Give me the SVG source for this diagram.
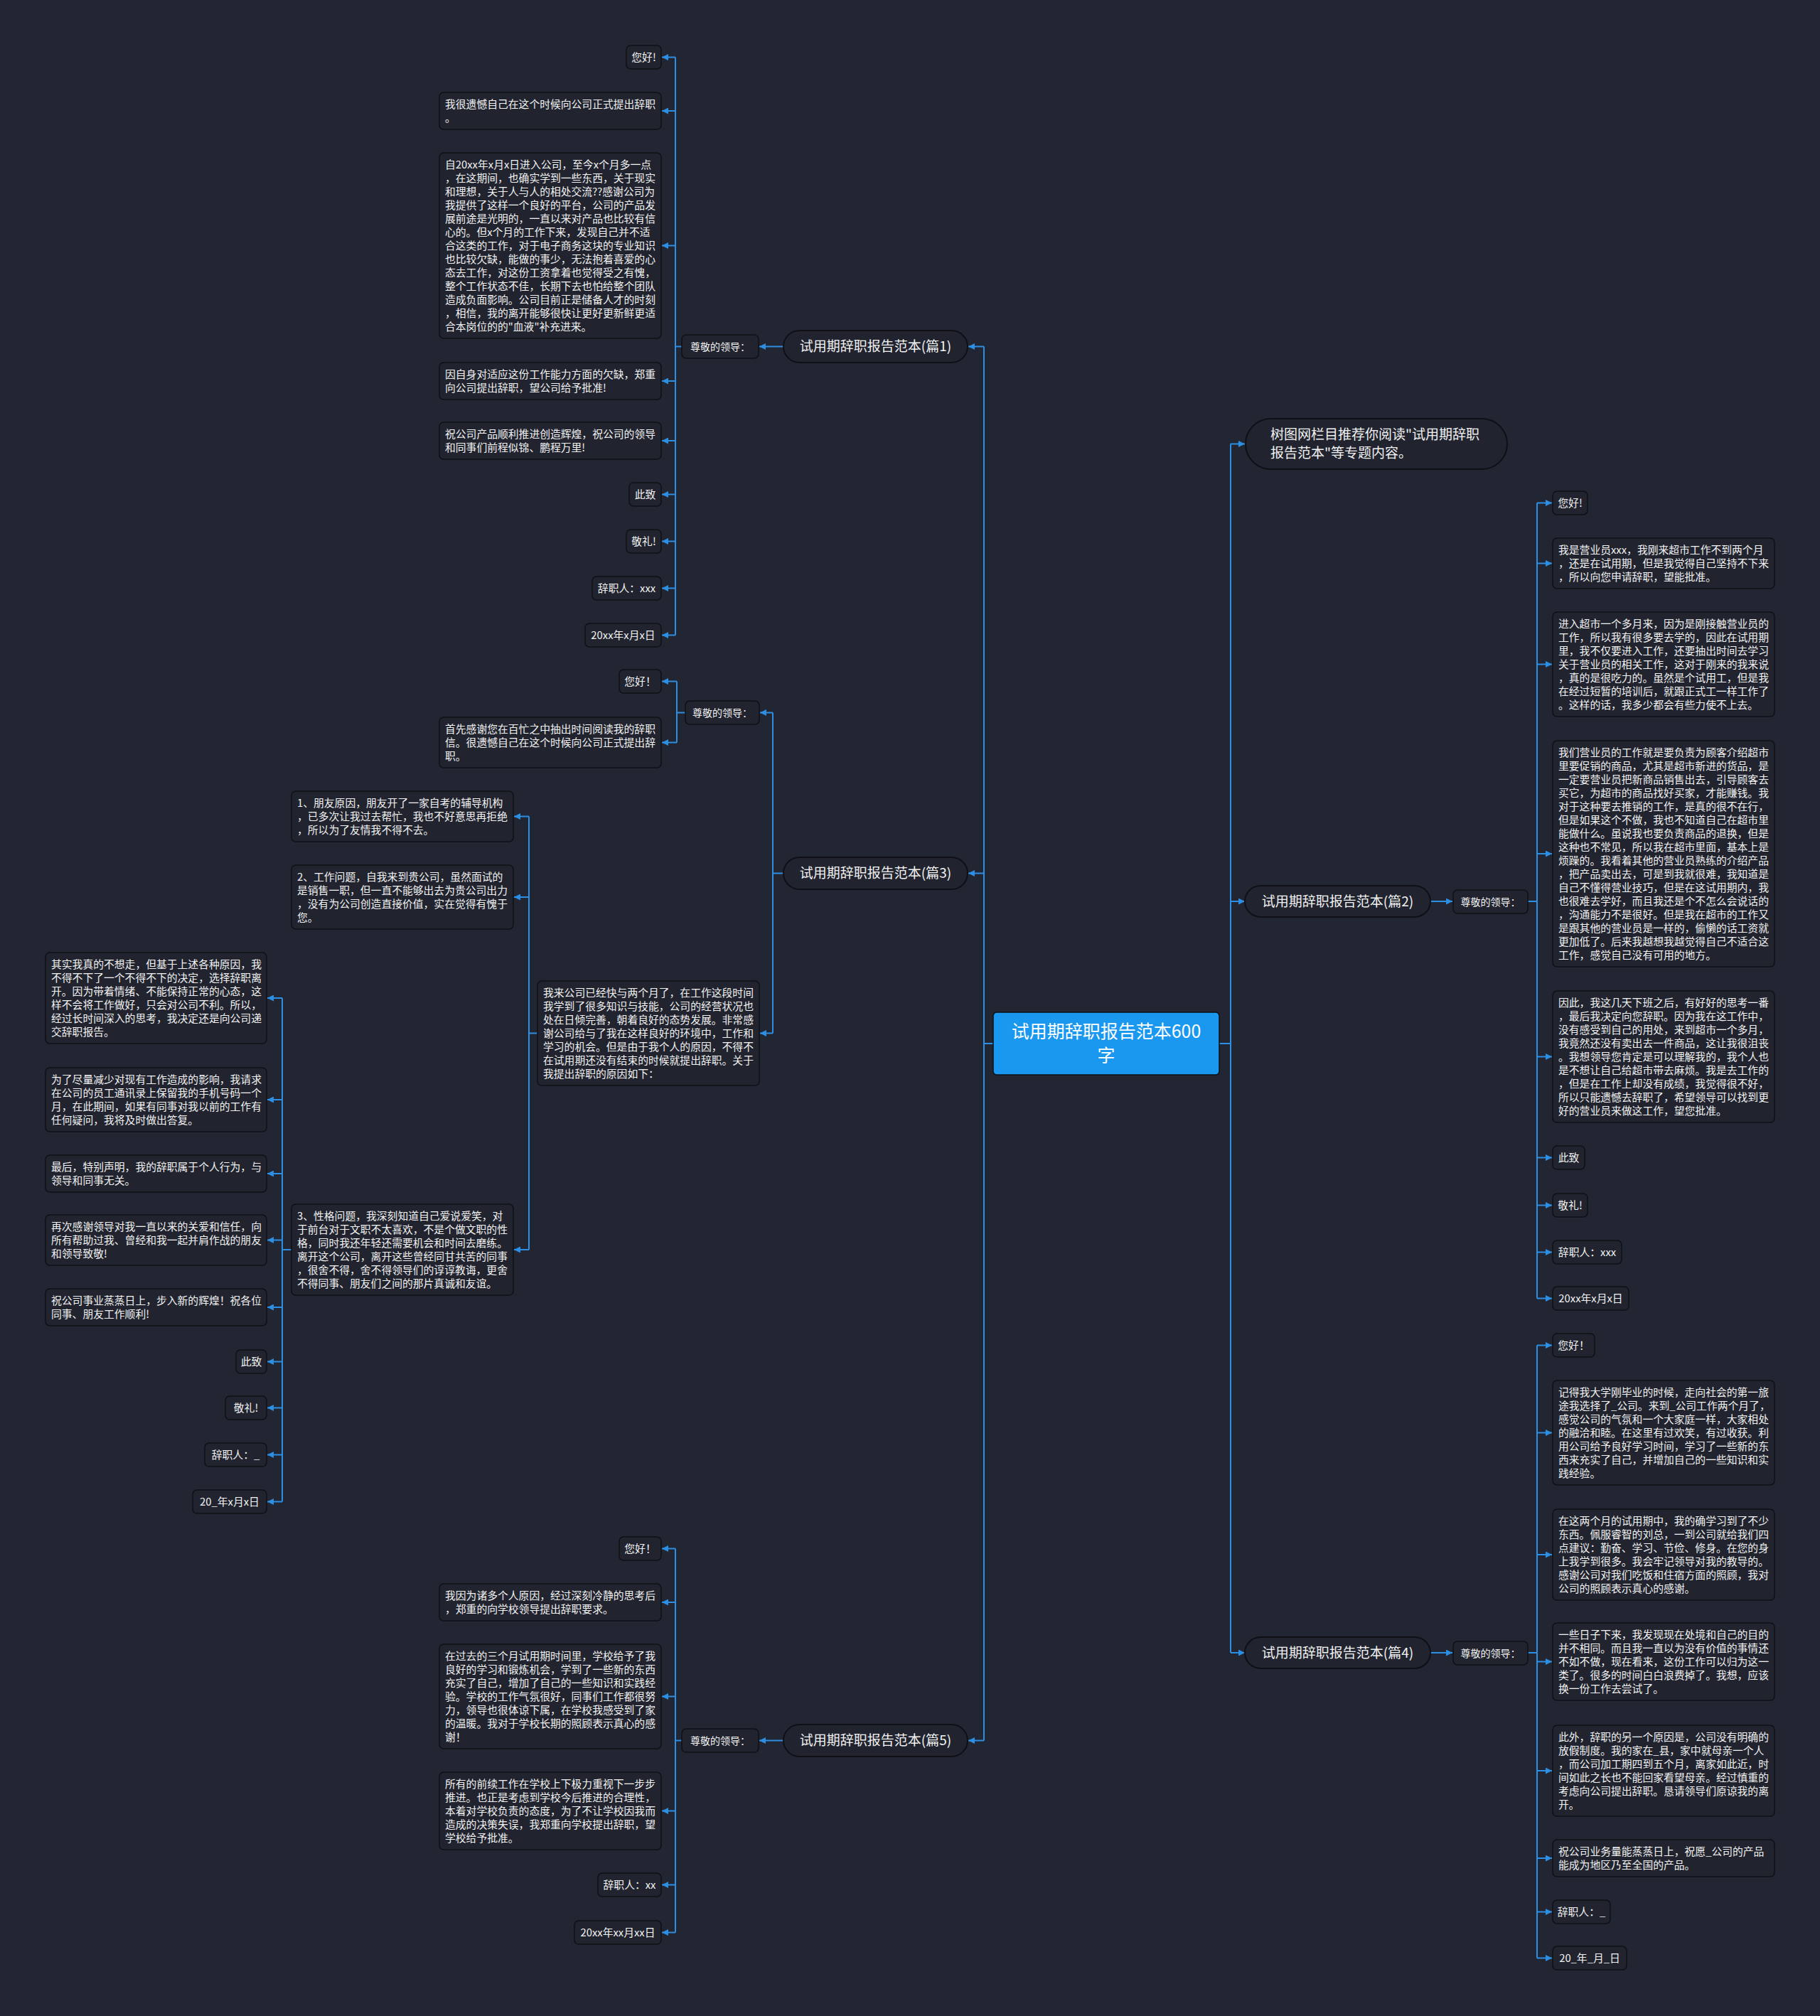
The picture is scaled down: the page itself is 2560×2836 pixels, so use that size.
<svg xmlns="http://www.w3.org/2000/svg" width="2560" height="2836" viewBox="0 0 2560 2836">
<style>
.leaf{fill:#21242f;stroke:#0e1015;stroke-width:1.5}
.pill{fill:#21242f;stroke:#0e1015;stroke-width:2}
.t{font-family:"Noto Sans CJK SC","Noto Sans",sans-serif;font-size:14.8px;fill:#f2f2f2}
.tm{font-size:19px}
.ts{font-size:14px}
.tc{font-size:25px;fill:#ffffff}
.c{stroke:#2d8fe3;stroke-width:2;fill:none}
</style>
<defs>
<marker id="ah" viewBox="0 0 10 10" refX="10" refY="5" markerWidth="9" markerHeight="9" markerUnits="userSpaceOnUse" orient="auto"><path d="M0,0L10,5L0,10z" fill="#2d8fe3"/></marker>
</defs>
<rect x="0" y="0" width="2560" height="2836" fill="#222532"/>

<g id="connectors">
<!-- center to spines -->
<path class="c" d="M1397,1468H1384M1384,487.5V2448.5"/>
<path class="c" d="M1384,487.5H1362" marker-end="url(#ah)"/>
<path class="c" d="M1384,1228.5H1362" marker-end="url(#ah)"/>
<path class="c" d="M1384,2448.5H1362" marker-end="url(#ah)"/>
<path class="c" d="M1715,1468H1731M1731,624.5V2325"/>
<path class="c" d="M1731,624.5H1751" marker-end="url(#ah)"/>
<path class="c" d="M1731,1268H1751" marker-end="url(#ah)"/>
<path class="c" d="M1731,2325H1751" marker-end="url(#ah)"/>
<!-- p1 -->
<path class="c" d="M1102,487.5H1068" marker-end="url(#ah)"/>
<path class="c" d="M959,487.5H950M950,80.5V893.5"/>
<path class="c" d="M950,80.5H931" marker-end="url(#ah)"/>
<path class="c" d="M950,156H931" marker-end="url(#ah)"/>
<path class="c" d="M950,345.5H931" marker-end="url(#ah)"/>
<path class="c" d="M950,536H931" marker-end="url(#ah)"/>
<path class="c" d="M950,620H931" marker-end="url(#ah)"/>
<path class="c" d="M950,695.5H931" marker-end="url(#ah)"/>
<path class="c" d="M950,761.5H931" marker-end="url(#ah)"/>
<path class="c" d="M950,827.5H931" marker-end="url(#ah)"/>
<path class="c" d="M950,893.5H931" marker-end="url(#ah)"/>
<!-- p3 -->
<path class="c" d="M1102,1228.5H1087M1087,1002.5V1453.5"/>
<path class="c" d="M1087,1002.5H1069" marker-end="url(#ah)"/>
<path class="c" d="M1087,1453.5H1069" marker-end="url(#ah)"/>
<path class="c" d="M964,1002.5H952M952,958.5V1044.5"/>
<path class="c" d="M952,958.5H931" marker-end="url(#ah)"/>
<path class="c" d="M952,1044.5H931" marker-end="url(#ah)"/>
<path class="c" d="M756,1453.5H744M744,1148.5V1758"/>
<path class="c" d="M744,1148.5H723" marker-end="url(#ah)"/>
<path class="c" d="M744,1262H723" marker-end="url(#ah)"/>
<path class="c" d="M744,1758H723" marker-end="url(#ah)"/>
<path class="c" d="M410,1758H397M397,1404V2112.5"/>
<path class="c" d="M397,1404H376" marker-end="url(#ah)"/>
<path class="c" d="M397,1547H376" marker-end="url(#ah)"/>
<path class="c" d="M397,1651H376" marker-end="url(#ah)"/>
<path class="c" d="M397,1744.5H376" marker-end="url(#ah)"/>
<path class="c" d="M397,1839H376" marker-end="url(#ah)"/>
<path class="c" d="M397,1915.5H376" marker-end="url(#ah)"/>
<path class="c" d="M397,1980.5H376" marker-end="url(#ah)"/>
<path class="c" d="M397,2046.5H376" marker-end="url(#ah)"/>
<path class="c" d="M397,2112.5H376" marker-end="url(#ah)"/>
<!-- p5 -->
<path class="c" d="M1102,2448.5H1068" marker-end="url(#ah)"/>
<path class="c" d="M959,2448.5H950M950,2178.5V2718.5"/>
<path class="c" d="M950,2178.5H931" marker-end="url(#ah)"/>
<path class="c" d="M950,2254H931" marker-end="url(#ah)"/>
<path class="c" d="M950,2386.5H931" marker-end="url(#ah)"/>
<path class="c" d="M950,2547.5H931" marker-end="url(#ah)"/>
<path class="c" d="M950,2651.5H931" marker-end="url(#ah)"/>
<path class="c" d="M950,2718.5H931" marker-end="url(#ah)"/>
<!-- p2 -->
<path class="c" d="M2012,1268H2043" marker-end="url(#ah)"/>
<path class="c" d="M2149,1268H2162M2162,707.5V1826.5"/>
<path class="c" d="M2162,707.5H2183" marker-end="url(#ah)"/>
<path class="c" d="M2162,792.5H2183" marker-end="url(#ah)"/>
<path class="c" d="M2162,934.5H2183" marker-end="url(#ah)"/>
<path class="c" d="M2162,1201H2183" marker-end="url(#ah)"/>
<path class="c" d="M2162,1486.5H2183" marker-end="url(#ah)"/>
<path class="c" d="M2162,1628.5H2183" marker-end="url(#ah)"/>
<path class="c" d="M2162,1695.5H2183" marker-end="url(#ah)"/>
<path class="c" d="M2162,1761.5H2183" marker-end="url(#ah)"/>
<path class="c" d="M2162,1826.5H2183" marker-end="url(#ah)"/>
<!-- p4 -->
<path class="c" d="M2012,2325H2043" marker-end="url(#ah)"/>
<path class="c" d="M2149,2325H2162M2162,1892.5V2754.5"/>
<path class="c" d="M2162,1892.5H2183" marker-end="url(#ah)"/>
<path class="c" d="M2162,2015.5H2183" marker-end="url(#ah)"/>
<path class="c" d="M2162,2187H2183" marker-end="url(#ah)"/>
<path class="c" d="M2162,2337.5H2183" marker-end="url(#ah)"/>
<path class="c" d="M2162,2491H2183" marker-end="url(#ah)"/>
<path class="c" d="M2162,2614H2183" marker-end="url(#ah)"/>
<path class="c" d="M2162,2689.5H2183" marker-end="url(#ah)"/>
<path class="c" d="M2162,2754.5H2183" marker-end="url(#ah)"/>
</g>

<g id="center">
<rect x="1397" y="1424" width="318" height="88" rx="5" fill="#1a98f0" stroke="#0e1015" stroke-width="1.5"/>
<text class="t tc" x="1556" y="1460" text-anchor="middle">试用期辞职报告范本600</text>
<text class="t tc" x="1556" y="1494" text-anchor="middle">字</text>
</g>

<!-- main branches -->
<g id="p1"><rect class="pill" x="1102" y="465" width="259" height="45" rx="22.5"/><text class="t tm" x="1231.5" y="494" text-anchor="middle">试用期辞职报告范本(篇1)</text></g>
<g id="p3"><rect class="pill" x="1102" y="1206" width="259" height="45" rx="22.5"/><text class="t tm" x="1231.5" y="1235" text-anchor="middle">试用期辞职报告范本(篇3)</text></g>
<g id="p5"><rect class="pill" x="1102" y="2426" width="259" height="45" rx="22.5"/><text class="t tm" x="1231.5" y="2455" text-anchor="middle">试用期辞职报告范本(篇5)</text></g>
<g id="rec"><rect class="pill" x="1752" y="589" width="368" height="71" rx="35.5"/><text class="t tm" x="1787" y="618"><tspan x="1787">树图网栏目推荐你阅读"试用期辞职</tspan><tspan x="1787" dy="26">报告范本"等专题内容。</tspan></text></g>
<g id="p2"><rect class="pill" x="1751" y="1246" width="261" height="44" rx="22"/><text class="t tm" x="1881.5" y="1274.5" text-anchor="middle">试用期辞职报告范本(篇2)</text></g>
<g id="p4"><rect class="pill" x="1751" y="2303" width="261" height="44" rx="22"/><text class="t tm" x="1881.5" y="2331.5" text-anchor="middle">试用期辞职报告范本(篇4)</text></g>

<!-- 篇1 children -->
<g id="p1-lead"><rect class="leaf" x="959" y="471" width="108" height="33" rx="6"/><text class="t ts" x="1013" y="492.5" text-anchor="middle">尊敬的领导：</text></g>
<g id="p1-a"><rect class="leaf" x="881" y="64" width="49" height="33" rx="6"/><text class="t" x="905.5" y="86" text-anchor="middle">您好!</text></g>
<g id="p1-b"><rect class="leaf" x="618" y="130" width="312" height="52" rx="6"/><text class="t" x="626" y="152"><tspan x="626">我很遗憾自己在这个时候向公司正式提出辞职</tspan><tspan x="626" dy="19">。</tspan></text></g>
<g id="p1-c"><rect class="leaf" x="618" y="215" width="312" height="261" rx="6"/><text class="t" x="626" y="237"><tspan x="626">自20xx年x月x日进入公司，至今x个月多一点</tspan><tspan x="626" dy="19">，在这期间，也确实学到一些东西，关于现实</tspan><tspan x="626" dy="19">和理想，关于人与人的相处交流??感谢公司为</tspan><tspan x="626" dy="19">我提供了这样一个良好的平台，公司的产品发</tspan><tspan x="626" dy="19">展前途是光明的，一直以来对产品也比较有信</tspan><tspan x="626" dy="19">心的。但x个月的工作下来，发现自己并不适</tspan><tspan x="626" dy="19">合这类的工作，对于电子商务这块的专业知识</tspan><tspan x="626" dy="19">也比较欠缺，能做的事少，无法抱着喜爱的心</tspan><tspan x="626" dy="19">态去工作，对这份工资拿着也觉得受之有愧，</tspan><tspan x="626" dy="19">整个工作状态不佳，长期下去也怕给整个团队</tspan><tspan x="626" dy="19">造成负面影响。公司目前正是储备人才的时刻</tspan><tspan x="626" dy="19">，相信，我的离开能够很快让更好更新鲜更适</tspan><tspan x="626" dy="19">合本岗位的的"血液"补充进来。</tspan></text></g>
<g id="p1-d"><rect class="leaf" x="618" y="510" width="312" height="52" rx="6"/><text class="t" x="626" y="532"><tspan x="626">因自身对适应这份工作能力方面的欠缺，郑重</tspan><tspan x="626" dy="19">向公司提出辞职，望公司给予批准!</tspan></text></g>
<g id="p1-e"><rect class="leaf" x="618" y="594" width="312" height="52" rx="6"/><text class="t" x="626" y="616"><tspan x="626">祝公司产品顺利推进创造辉煌，祝公司的领导</tspan><tspan x="626" dy="19">和同事们前程似锦、鹏程万里!</tspan></text></g>
<g id="p1-f"><rect class="leaf" x="885" y="679" width="45" height="33" rx="6"/><text class="t" x="907.5" y="701" text-anchor="middle">此致</text></g>
<g id="p1-g"><rect class="leaf" x="881" y="745" width="49" height="33" rx="6"/><text class="t" x="905.5" y="767" text-anchor="middle">敬礼!</text></g>
<g id="p1-h"><rect class="leaf" x="833" y="811" width="97" height="33" rx="6"/><text class="t" x="881.5" y="833" text-anchor="middle">辞职人：xxx</text></g>
<g id="p1-i"><rect class="leaf" x="823" y="877" width="107" height="33" rx="6"/><text class="t" x="876.5" y="899" text-anchor="middle">20xx年x月x日</text></g>

<!-- 篇3 children -->
<g id="p3-lead"><rect class="leaf" x="964" y="986" width="104" height="33" rx="6"/><text class="t ts" x="1016" y="1007.5" text-anchor="middle">尊敬的领导：</text></g>
<g id="p3-a"><rect class="leaf" x="871" y="942" width="59" height="33" rx="6"/><text class="t" x="900.5" y="964" text-anchor="middle">您好！</text></g>
<g id="p3-b"><rect class="leaf" x="618" y="1009" width="312" height="71" rx="6"/><text class="t" x="626" y="1031"><tspan x="626">首先感谢您在百忙之中抽出时间阅读我的辞职</tspan><tspan x="626" dy="19">信。很遗憾自己在这个时候向公司正式提出辞</tspan><tspan x="626" dy="19">职。</tspan></text></g>
<g id="p3-main"><rect class="leaf" x="756" y="1380" width="312" height="147" rx="6"/><text class="t" x="764" y="1402"><tspan x="764">我来公司已经快与两个月了，在工作这段时间</tspan><tspan x="764" dy="19">我学到了很多知识与技能，公司的经营状况也</tspan><tspan x="764" dy="19">处在日倾完善，朝着良好的态势发展。非常感</tspan><tspan x="764" dy="19">谢公司给与了我在这样良好的环境中，工作和</tspan><tspan x="764" dy="19">学习的机会。但是由于我个人的原因，不得不</tspan><tspan x="764" dy="19">在试用期还没有结束的时候就提出辞职。关于</tspan><tspan x="764" dy="19">我提出辞职的原因如下：</tspan></text></g>
<g id="p3-r1"><rect class="leaf" x="410" y="1113" width="312" height="71" rx="6"/><text class="t" x="418" y="1135"><tspan x="418">1、朋友原因，朋友开了一家自考的辅导机构</tspan><tspan x="418" dy="19">，已多次让我过去帮忙，我也不好意思再拒绝</tspan><tspan x="418" dy="19">，所以为了友情我不得不去。</tspan></text></g>
<g id="p3-r2"><rect class="leaf" x="410" y="1217" width="312" height="90" rx="6"/><text class="t" x="418" y="1239"><tspan x="418">2、工作问题，自我来到贵公司，虽然面试的</tspan><tspan x="418" dy="19">是销售一职，但一直不能够出去为贵公司出力</tspan><tspan x="418" dy="19">，没有为公司创造直接价值，实在觉得有愧于</tspan><tspan x="418" dy="19">您。</tspan></text></g>
<g id="p3-r3"><rect class="leaf" x="410" y="1694" width="312" height="128" rx="6"/><text class="t" x="418" y="1716"><tspan x="418">3、性格问题，我深刻知道自己爱说爱笑，对</tspan><tspan x="418" dy="19">于前台对于文职不太喜欢，不是个做文职的性</tspan><tspan x="418" dy="19">格，同时我还年轻还需要机会和时间去磨练。</tspan><tspan x="418" dy="19">离开这个公司，离开这些曾经同甘共苦的同事</tspan><tspan x="418" dy="19">，很舍不得，舍不得领导们的谆谆教诲，更舍</tspan><tspan x="418" dy="19">不得同事、朋友们之间的那片真诚和友谊。</tspan></text></g>
<g id="p3-s1"><rect class="leaf" x="64" y="1340" width="311" height="128" rx="6"/><text class="t" x="72" y="1362"><tspan x="72">其实我真的不想走，但基于上述各种原因，我</tspan><tspan x="72" dy="19">不得不下了一个不得不下的决定，选择辞职离</tspan><tspan x="72" dy="19">开。因为带着情绪、不能保持正常的心态，这</tspan><tspan x="72" dy="19">样不会将工作做好，只会对公司不利。所以，</tspan><tspan x="72" dy="19">经过长时间深入的思考，我决定还是向公司递</tspan><tspan x="72" dy="19">交辞职报告。</tspan></text></g>
<g id="p3-s2"><rect class="leaf" x="64" y="1502" width="311" height="90" rx="6"/><text class="t" x="72" y="1524"><tspan x="72">为了尽量减少对现有工作造成的影响，我请求</tspan><tspan x="72" dy="19">在公司的员工通讯录上保留我的手机号码一个</tspan><tspan x="72" dy="19">月，在此期间，如果有同事对我以前的工作有</tspan><tspan x="72" dy="19">任何疑问，我将及时做出答复。</tspan></text></g>
<g id="p3-s3"><rect class="leaf" x="64" y="1625" width="311" height="52" rx="6"/><text class="t" x="72" y="1647"><tspan x="72">最后，特别声明，我的辞职属于个人行为，与</tspan><tspan x="72" dy="19">领导和同事无关。</tspan></text></g>
<g id="p3-s4"><rect class="leaf" x="64" y="1709" width="311" height="71" rx="6"/><text class="t" x="72" y="1731"><tspan x="72">再次感谢领导对我一直以来的关爱和信任，向</tspan><tspan x="72" dy="19">所有帮助过我、曾经和我一起并肩作战的朋友</tspan><tspan x="72" dy="19">和领导致敬!</tspan></text></g>
<g id="p3-s5"><rect class="leaf" x="64" y="1813" width="311" height="52" rx="6"/><text class="t" x="72" y="1835"><tspan x="72">祝公司事业蒸蒸日上，步入新的辉煌！祝各位</tspan><tspan x="72" dy="19">同事、朋友工作顺利!</tspan></text></g>
<g id="p3-s6"><rect class="leaf" x="332" y="1899" width="43" height="33" rx="6"/><text class="t" x="353.5" y="1921" text-anchor="middle">此致</text></g>
<g id="p3-s7"><rect class="leaf" x="317" y="1964" width="58" height="33" rx="6"/><text class="t" x="346" y="1986" text-anchor="middle">敬礼!</text></g>
<g id="p3-s8"><rect class="leaf" x="288" y="2030" width="87" height="33" rx="6"/><text class="t" x="331.5" y="2052" text-anchor="middle">辞职人：_</text></g>
<g id="p3-s9"><rect class="leaf" x="271" y="2096" width="104" height="33" rx="6"/><text class="t" x="323" y="2118" text-anchor="middle">20_年x月x日</text></g>

<!-- 篇5 children -->
<g id="p5-lead"><rect class="leaf" x="959" y="2432" width="108" height="33" rx="6"/><text class="t ts" x="1013" y="2453.5" text-anchor="middle">尊敬的领导：</text></g>
<g id="p5-a"><rect class="leaf" x="871" y="2162" width="59" height="33" rx="6"/><text class="t" x="900.5" y="2184" text-anchor="middle">您好！</text></g>
<g id="p5-b"><rect class="leaf" x="618" y="2228" width="312" height="52" rx="6"/><text class="t" x="626" y="2250"><tspan x="626">我因为诸多个人原因，经过深刻冷静的思考后</tspan><tspan x="626" dy="19">，郑重的向学校领导提出辞职要求。</tspan></text></g>
<g id="p5-c"><rect class="leaf" x="618" y="2313" width="312" height="147" rx="6"/><text class="t" x="626" y="2335"><tspan x="626">在过去的三个月试用期时间里，学校给予了我</tspan><tspan x="626" dy="19">良好的学习和锻炼机会，学到了一些新的东西</tspan><tspan x="626" dy="19">充实了自己，增加了自己的一些知识和实践经</tspan><tspan x="626" dy="19">验。学校的工作气氛很好，同事们工作都很努</tspan><tspan x="626" dy="19">力，领导也很体谅下属，在学校我感受到了家</tspan><tspan x="626" dy="19">的温暖。我对于学校长期的照顾表示真心的感</tspan><tspan x="626" dy="19">谢！</tspan></text></g>
<g id="p5-d"><rect class="leaf" x="618" y="2493" width="312" height="109" rx="6"/><text class="t" x="626" y="2515"><tspan x="626">所有的前续工作在学校上下极力重视下一步步</tspan><tspan x="626" dy="19">推进。也正是考虑到学校今后推进的合理性，</tspan><tspan x="626" dy="19">本着对学校负责的态度，为了不让学校因我而</tspan><tspan x="626" dy="19">造成的决策失误，我郑重向学校提出辞职，望</tspan><tspan x="626" dy="19">学校给予批准。</tspan></text></g>
<g id="p5-e"><rect class="leaf" x="841" y="2635" width="89" height="33" rx="6"/><text class="t" x="885.5" y="2657" text-anchor="middle">辞职人：xx</text></g>
<g id="p5-f"><rect class="leaf" x="808" y="2702" width="122" height="33" rx="6"/><text class="t" x="869" y="2724" text-anchor="middle">20xx年xx月xx日</text></g>

<!-- 篇2 children -->
<g id="p2-lead"><rect class="leaf" x="2044" y="1252" width="105" height="33" rx="6"/><text class="t ts" x="2096.5" y="1273.5" text-anchor="middle">尊敬的领导：</text></g>
<g id="p2-a"><rect class="leaf" x="2184" y="691" width="49" height="33" rx="6"/><text class="t" x="2208.5" y="713" text-anchor="middle">您好!</text></g>
<g id="p2-b"><rect class="leaf" x="2184" y="757" width="312" height="71" rx="6"/><text class="t" x="2192" y="779"><tspan x="2192">我是营业员xxx，我刚来超市工作不到两个月</tspan><tspan x="2192" dy="19">，还是在试用期，但是我觉得自己坚持不下来</tspan><tspan x="2192" dy="19">，所以向您申请辞职，望能批准。</tspan></text></g>
<g id="p2-c"><rect class="leaf" x="2184" y="861" width="312" height="147" rx="6"/><text class="t" x="2192" y="883"><tspan x="2192">进入超市一个多月来，因为是刚接触营业员的</tspan><tspan x="2192" dy="19">工作，所以我有很多要去学的，因此在试用期</tspan><tspan x="2192" dy="19">里，我不仅要进入工作，还要抽出时间去学习</tspan><tspan x="2192" dy="19">关于营业员的相关工作，这对于刚来的我来说</tspan><tspan x="2192" dy="19">，真的是很吃力的。虽然是个试用工，但是我</tspan><tspan x="2192" dy="19">在经过短暂的培训后，就跟正式工一样工作了</tspan><tspan x="2192" dy="19">。这样的话，我多少都会有些力使不上去。</tspan></text></g>
<g id="p2-d"><rect class="leaf" x="2184" y="1042" width="312" height="318" rx="6"/><text class="t" x="2192" y="1064"><tspan x="2192">我们营业员的工作就是要负责为顾客介绍超市</tspan><tspan x="2192" dy="19">里要促销的商品，尤其是超市新进的货品，是</tspan><tspan x="2192" dy="19">一定要营业员把新商品销售出去，引导顾客去</tspan><tspan x="2192" dy="19">买它，为超市的商品找好买家，才能赚钱。我</tspan><tspan x="2192" dy="19">对于这种要去推销的工作，是真的很不在行，</tspan><tspan x="2192" dy="19">但是如果这个不做，我也不知道自己在超市里</tspan><tspan x="2192" dy="19">能做什么。虽说我也要负责商品的退换，但是</tspan><tspan x="2192" dy="19">这种也不常见，所以我在超市里面，基本上是</tspan><tspan x="2192" dy="19">烦躁的。我看着其他的营业员熟练的介绍产品</tspan><tspan x="2192" dy="19">，把产品卖出去，可是到我就很难，我知道是</tspan><tspan x="2192" dy="19">自己不懂得营业技巧，但是在这试用期内，我</tspan><tspan x="2192" dy="19">也很难去学好，而且我还是个不怎么会说话的</tspan><tspan x="2192" dy="19">，沟通能力不是很好。但是我在超市的工作又</tspan><tspan x="2192" dy="19">是跟其他的营业员是一样的，偷懒的话工资就</tspan><tspan x="2192" dy="19">更加低了。后来我越想我越觉得自己不适合这</tspan><tspan x="2192" dy="19">工作，感觉自己没有可用的地方。</tspan></text></g>
<g id="p2-e"><rect class="leaf" x="2184" y="1394" width="312" height="185" rx="6"/><text class="t" x="2192" y="1416"><tspan x="2192">因此，我这几天下班之后，有好好的思考一番</tspan><tspan x="2192" dy="19">，最后我决定向您辞职。因为我在这工作中，</tspan><tspan x="2192" dy="19">没有感受到自己的用处，来到超市一个多月，</tspan><tspan x="2192" dy="19">我竟然还没有卖出去一件商品，这让我很沮丧</tspan><tspan x="2192" dy="19">。我想领导您肯定是可以理解我的，我个人也</tspan><tspan x="2192" dy="19">是不想让自己给超市带去麻烦。我是去工作的</tspan><tspan x="2192" dy="19">，但是在工作上却没有成绩，我觉得很不好，</tspan><tspan x="2192" dy="19">所以只能遗憾去辞职了，希望领导可以找到更</tspan><tspan x="2192" dy="19">好的营业员来做这工作，望您批准。</tspan></text></g>
<g id="p2-f"><rect class="leaf" x="2184" y="1612" width="45" height="33" rx="6"/><text class="t" x="2206.5" y="1634" text-anchor="middle">此致</text></g>
<g id="p2-g"><rect class="leaf" x="2184" y="1679" width="49" height="33" rx="6"/><text class="t" x="2208.5" y="1701" text-anchor="middle">敬礼!</text></g>
<g id="p2-h"><rect class="leaf" x="2184" y="1745" width="97" height="33" rx="6"/><text class="t" x="2232.5" y="1767" text-anchor="middle">辞职人：xxx</text></g>
<g id="p2-i"><rect class="leaf" x="2184" y="1810" width="107" height="33" rx="6"/><text class="t" x="2237.5" y="1832" text-anchor="middle">20xx年x月x日</text></g>

<!-- 篇4 children -->
<g id="p4-lead"><rect class="leaf" x="2044" y="2309" width="105" height="33" rx="6"/><text class="t ts" x="2096.5" y="2330.5" text-anchor="middle">尊敬的领导：</text></g>
<g id="p4-a"><rect class="leaf" x="2184" y="1876" width="59" height="33" rx="6"/><text class="t" x="2213.5" y="1898" text-anchor="middle">您好！</text></g>
<g id="p4-b"><rect class="leaf" x="2184" y="1942" width="312" height="147" rx="6"/><text class="t" x="2192" y="1964"><tspan x="2192">记得我大学刚毕业的时候，走向社会的第一旅</tspan><tspan x="2192" dy="19">途我选择了_公司。来到_公司工作两个月了，</tspan><tspan x="2192" dy="19">感觉公司的气氛和一个大家庭一样，大家相处</tspan><tspan x="2192" dy="19">的融洽和睦。在这里有过欢笑，有过收获。利</tspan><tspan x="2192" dy="19">用公司给予良好学习时间，学习了一些新的东</tspan><tspan x="2192" dy="19">西来充实了自己，并增加自己的一些知识和实</tspan><tspan x="2192" dy="19">践经验。</tspan></text></g>
<g id="p4-c"><rect class="leaf" x="2184" y="2123" width="312" height="128" rx="6"/><text class="t" x="2192" y="2145"><tspan x="2192">在这两个月的试用期中，我的确学习到了不少</tspan><tspan x="2192" dy="19">东西。佩服睿智的刘总，一到公司就给我们四</tspan><tspan x="2192" dy="19">点建议：勤奋、学习、节俭、修身。在您的身</tspan><tspan x="2192" dy="19">上我学到很多。我会牢记领导对我的教导的。</tspan><tspan x="2192" dy="19">感谢公司对我们吃饭和住宿方面的照顾，我对</tspan><tspan x="2192" dy="19">公司的照顾表示真心的感谢。</tspan></text></g>
<g id="p4-d"><rect class="leaf" x="2184" y="2283" width="312" height="109" rx="6"/><text class="t" x="2192" y="2305"><tspan x="2192">一些日子下来，我发现现在处境和自己的目的</tspan><tspan x="2192" dy="19">并不相同。而且我一直以为没有价值的事情还</tspan><tspan x="2192" dy="19">不如不做，现在看来，这份工作可以归为这一</tspan><tspan x="2192" dy="19">类了。很多的时间白白浪费掉了。我想，应该</tspan><tspan x="2192" dy="19">换一份工作去尝试了。</tspan></text></g>
<g id="p4-e"><rect class="leaf" x="2184" y="2427" width="312" height="128" rx="6"/><text class="t" x="2192" y="2449"><tspan x="2192">此外，辞职的另一个原因是，公司没有明确的</tspan><tspan x="2192" dy="19">放假制度。我的家在_县，家中就母亲一个人</tspan><tspan x="2192" dy="19">，而公司加工期四到五个月，离家如此近，时</tspan><tspan x="2192" dy="19">间如此之长也不能回家看望母亲。经过慎重的</tspan><tspan x="2192" dy="19">考虑向公司提出辞职。恳请领导们原谅我的离</tspan><tspan x="2192" dy="19">开。</tspan></text></g>
<g id="p4-f"><rect class="leaf" x="2184" y="2588" width="312" height="52" rx="6"/><text class="t" x="2192" y="2610"><tspan x="2192">祝公司业务量能蒸蒸日上，祝愿_公司的产品</tspan><tspan x="2192" dy="19">能成为地区乃至全国的产品。</tspan></text></g>
<g id="p4-g"><rect class="leaf" x="2184" y="2673" width="81" height="33" rx="6"/><text class="t" x="2224.5" y="2695" text-anchor="middle">辞职人：_</text></g>
<g id="p4-h"><rect class="leaf" x="2184" y="2738" width="104" height="33" rx="6"/><text class="t" x="2236" y="2760" text-anchor="middle">20_年_月_日</text></g>
</svg>
